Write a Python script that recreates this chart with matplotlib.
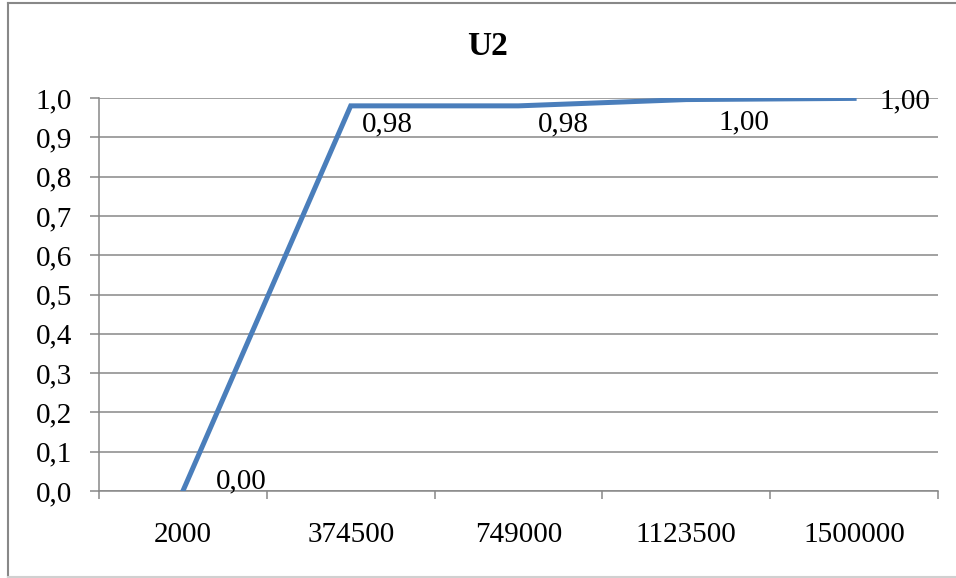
import matplotlib
matplotlib.use("Agg")
from matplotlib import pyplot as plt
from matplotlib.lines import Line2D
from matplotlib.ticker import FixedLocator, FuncFormatter

# Series U2
categories = ["2000", "374500", "749000", "1123500", "1500000"]
values = [0.0, 0.98, 0.98, 0.996, 0.999]
title = "U2"

# Pixel offsets (dx, dy) of each value label from its point
label_offsets = [(33, 3), (11, -26), (19, -26), (32, -30), (25, -10)]

W, H = 956, 578
plt.rcParams["font.family"] = ["Liberation Serif", "DejaVu Serif"]

fig = plt.figure(figsize=(W / 100, H / 100), dpi=100)
fig.patch.set_facecolor("white")

# plot area in pixels: x 99..938, y 98..491
ax = fig.add_axes([99 / W, (H - 491) / H, (938 - 99) / W, (491 - 98) / H])

grid_color = "#888888"
x = list(range(len(categories)))
ax.plot(x, values, color="#4A7EBB", linewidth=3.6, solid_joinstyle="miter", zorder=3)

for i, v in enumerate(values):
    dx, dy = label_offsets[i]
    ax.annotate(f"{v:.2f}".replace(".", ","), (x[i], v), xytext=(dx, dy),
                textcoords="offset pixels", ha="left", va="baseline",
                fontsize=21, color="black", zorder=4)

ax.set_xlim(-0.5, len(categories) - 0.5)
ax.set_ylim(0, 1.0)

# category boundaries carry tick marks, centers carry the labels
ax.xaxis.set_major_locator(FixedLocator([i - 0.5 for i in range(len(categories) + 1)]))
ax.xaxis.set_major_formatter(FuncFormatter(lambda v, p: ""))
ax.xaxis.set_minor_locator(FixedLocator(x))
ax.xaxis.set_minor_formatter(FuncFormatter(lambda v, p: categories[int(round(v))]))
ax.tick_params(axis="x", which="major", length=6, width=1.1, color=grid_color, direction="out")
ax.tick_params(axis="x", which="minor", length=0, pad=22, labelsize=21)

yticks = [i / 10 for i in range(11)]
ax.set_yticks(yticks)
ax.yaxis.set_major_formatter(FuncFormatter(lambda v, p: f"{v:.1f}".replace(".", ",")))
ax.tick_params(axis="y", length=6.5, width=1.1, color=grid_color, pad=13, labelsize=21)

ax.yaxis.grid(True, color=grid_color, linewidth=1.1)
ax.set_axisbelow(True)
for side in ("top", "right"):
    ax.spines[side].set_visible(False)
for side in ("left", "bottom"):
    ax.spines[side].set_color(grid_color)
    ax.spines[side].set_linewidth(1.1)

fig.text(487 / W, (H - 55) / H, title, ha="center", va="baseline",
         fontsize=24, fontweight="bold")

# chart frame
def px_line(x0, y0, x1, y1, color):
    fig.add_artist(Line2D([x0 / W, x1 / W], [1 - y0 / H, 1 - y1 / H],
                          transform=fig.transFigure, color=color, linewidth=1.5))

px_line(7.5, 3, W, 3, "#888888")
px_line(7.5, 3, 7.5, 577, "#888888")
px_line(7.5, 577, W, 577, "#d0d0d0")

fig.savefig("out.png", dpi=100, facecolor="white")
